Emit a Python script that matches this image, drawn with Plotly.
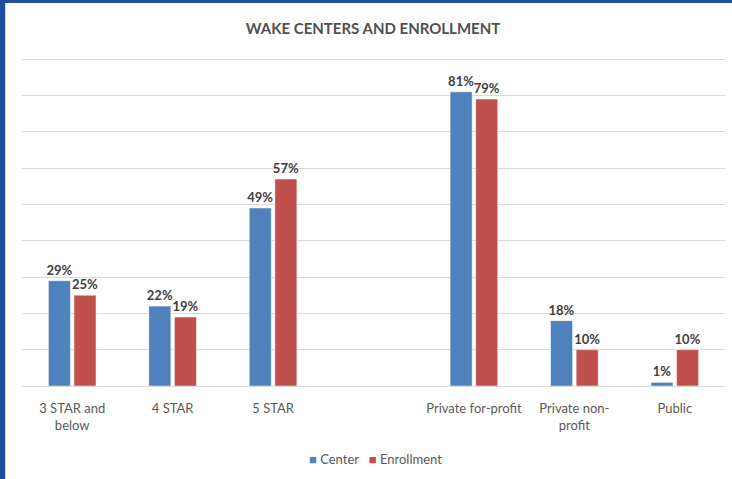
import plotly.graph_objects as go

categories = ["3 STAR and<br>below", "4 STAR", "5 STAR", " ", "Private for-profit", "Private non-<br>profit", "Public"]
center = [29, 22, 49, None, 81, 18, 1]
enrollment = [25, 19, 57, None, 79, 10, 10]
series_names = ["Center", "Enrollment"]
colors = ["#4F81BD", "#C0504D"]

W, H = 732, 479
L, R, T, B = 22, 7, 57, 93
pw, ph = W - L - R, H - T - B

def px(p):
    return (p - L) / pw

def py(p):
    return (H - B - p) / ph

fig = go.Figure()
for name, vals, col in zip(series_names, [center, enrollment], colors):
    fig.add_trace(go.Bar(
        x=categories, y=vals, name=name,
        marker=dict(color=col, line=dict(color="rgba(255,255,255,0.6)", width=0.8)),
        text=[f"{v}%" if v is not None else "" for v in vals],
        textposition="outside", cliponaxis=False, constraintext="none",
        textfont=dict(family="Lato", size=13, color="#404040", weight="bold"),
        showlegend=False,
    ))

legend_text = "   ".join(
    f"<span style='color:{c}'>■</span> {n}" for n, c in zip(series_names, colors)
)
fig.add_annotation(xref="paper", yref="paper", x=px(375), y=py(459),
                   xanchor="center", yanchor="middle", showarrow=False,
                   text=legend_text,
                   font=dict(family="Lato", size=13, color="#595959"))

border = "#1F4E9E"
fig.add_shape(type="rect", xref="paper", yref="paper",
              x0=px(0), x1=px(5), y0=py(H), y1=py(0),
              line=dict(width=0), fillcolor=border, layer="above")
fig.add_shape(type="rect", xref="paper", yref="paper",
              x0=px(0), x1=px(W), y0=py(3), y1=py(0),
              line=dict(width=0), fillcolor=border, layer="above")
fig.add_shape(type="line", xref="paper", yref="paper",
              x0=px(5.5), x1=px(5.5), y0=py(H), y1=py(3),
              line=dict(width=1, color="#D0D0D8"), layer="above")

fig.update_layout(
    width=W, height=H,
    margin=dict(l=L, r=R, t=T, b=B),
    paper_bgcolor="white", plot_bgcolor="white",
    title=dict(text="<b>WAKE CENTERS AND ENROLLMENT</b>", x=373 / W, xanchor="center",
               y=1 - 29 / H, yanchor="middle",
               font=dict(family="Lato", size=15, color="#505050")),
    barmode="group", bargap=0.49, bargroupgap=0.14,
    showlegend=False,
    xaxis=dict(type="category", categoryorder="array", categoryarray=categories,
               showgrid=False, showline=True, linecolor="#D9D9D9", linewidth=1,
               ticks="outside", ticklen=10, tickcolor="rgba(0,0,0,0)",
               tickfont=dict(family="Lato", size=13, color="#595959")),
    yaxis=dict(range=[0, 90.6], dtick=10, showticklabels=False, showgrid=True,
               gridcolor="#D9D9D9", gridwidth=1, zeroline=False, showline=False),
)

fig.write_html("out.html")
